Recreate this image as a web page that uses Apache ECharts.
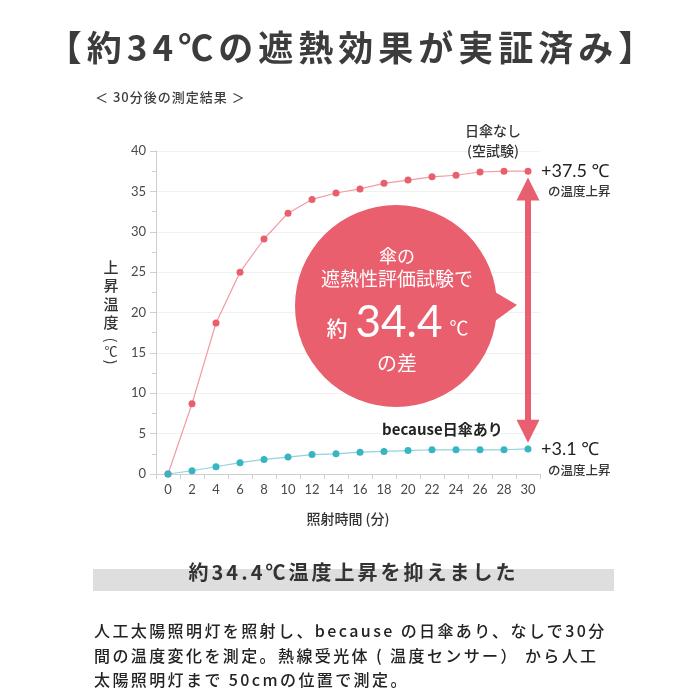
<!DOCTYPE html>
<html lang="ja">
<head>
<meta charset="utf-8">
<title>約34℃の遮熱効果</title>
<script src="https://cdn.jsdelivr.net/npm/echarts@6/dist/echarts.min.js"></script>
<style>
  html, body { margin: 0; padding: 0; background: #fff; }
  #wrap { position: relative; width: 700px; height: 700px; overflow: hidden;
          font-family: "Noto Sans CJK JP", "Noto Sans", sans-serif; }
  #chart { position: absolute; left: 0; top: 0; width: 700px; height: 700px; }
  .title { position: absolute; left: 0; top: 25px; width: 700px; text-align: center;
           font-size: 35px; line-height: 42px; font-weight: 600; color: #3c3c3c;
           letter-spacing: 5px; padding-left: 5px; box-sizing: border-box; }
  .sub { position: absolute; left: 95px; top: 88px; font-size: 13px; line-height: 18px;
         color: #3c3c3c; letter-spacing: 1px; font-weight: 500; }
  .band { position: absolute; left: 93px; top: 569px; width: 521px; height: 22px; background: #dedede; }
  .heading { position: absolute; left: 93px; top: 559px; width: 521px; text-align: center;
             font-size: 20px; line-height: 26px; font-weight: bold; color: #333; letter-spacing: 3px; }
  .para { position: absolute; left: 94px; top: 618px; font-size: 16px; line-height: 24.5px;
          color: #222; letter-spacing: 2.4px; white-space: nowrap; font-weight: 500; }
</style>
</head>
<body>
<div id="wrap">
  <div id="chart"></div>
  <div class="title">【約34℃の遮熱効果が実証済み】</div>
  <div class="sub">＜ 30分後の測定結果 ＞</div>
  <div class="band"></div>
  <div class="heading">約34.4℃温度上昇を抑えました</div>
  <div class="para">人工太陽照明灯を照射し、because の日傘あり、なしで30分<br>間の温度変化を測定。熱線受光体 ( 温度センサー） から人工<br>太陽照明灯まで 50cmの位置で測定。</div>
</div>
<script>
// 照射時間 (分)
const minutes = ['0', '2', '4', '6', '8', '10', '12', '14', '16', '18', '20', '22', '24', '26', '28', '30'];
// 日傘なし (空試験)
const noUmbrella = [0, 8.7, 18.7, 25.0, 29.1, 32.3, 34.0, 34.8, 35.3, 36.0, 36.4, 36.8, 37.0, 37.4, 37.5, 37.5];
// because日傘あり
const withUmbrella = [0, 0.4, 0.9, 1.4, 1.8, 2.1, 2.4, 2.5, 2.7, 2.8, 2.9, 3.0, 3.0, 3.0, 3.0, 3.1];
// 差を示す矢印の両端 (℃)
const arrowEnds = [35.3, 5.3];

const JP = '"Noto Sans CJK JP", sans-serif';
const NUM = 'Lato, "Noto Sans", sans-serif';
const RED = '#e95f6e';
const TEAL = '#36b6c3';
const AXIS = '#cfcfcf';

const chart = echarts.init(document.getElementById('chart'));

const lastMin = minutes[minutes.length - 1];

// 吹き出し・注記のテキスト
function label(text, x, y, font, fill, align, z) {
  return {
    type: 'text',
    z: z || 1,
    style: { text: text, x: x, y: y, font: font, fill: fill, textAlign: align || 'center', textVerticalAlign: 'middle' }
  };
}

const option = {
  animation: false,
  grid: { left: 156, top: 151, width: 384, height: 323 },
  xAxis: {
    type: 'category',
    data: minutes,
    boundaryGap: true,
    name: '照射時間 (分)',
    nameLocation: 'middle',
    nameGap: 38,
    nameTextStyle: { color: '#333', fontSize: 14, fontFamily: JP, fontWeight: 500 },
    axisLine: { lineStyle: { color: AXIS } },
    axisTick: { show: true, length: 5, lineStyle: { color: AXIS } },
    axisLabel: { color: '#4a4a4a', fontSize: 13, fontFamily: NUM, margin: 9 },
    splitLine: { show: false }
  },
  yAxis: {
    type: 'value',
    min: 0,
    max: 40,
    interval: 5,
    axisLine: { show: true, lineStyle: { color: AXIS } },
    axisTick: { show: true, length: 6, lineStyle: { color: AXIS } },
    minorTick: { show: true, splitNumber: 2, length: 4, lineStyle: { color: AXIS } },
    axisLabel: { color: '#4a4a4a', fontSize: 13, fontFamily: NUM, margin: 10 },
    splitLine: { show: true, lineStyle: { color: '#f1f1f1' } }
  },
  series: [
    {
      name: '日傘なし',
      type: 'line',
      data: noUmbrella,
      symbol: 'circle',
      symbolSize: 7,
      itemStyle: { color: RED },
      lineStyle: { color: '#f29ba4', width: 1.2 },
      z: 4,
      markLine: {
        silent: true,
        symbol: ['triangle', 'triangle'],
        symbolSize: 23,
        label: { show: false },
        lineStyle: { color: '#e8606f', width: 6, type: 'solid' },
        data: [[
          { coord: [lastMin, arrowEnds[0]] },
          { coord: [lastMin, arrowEnds[1]] }
        ]]
      }
    },
    {
      name: 'because日傘あり',
      type: 'line',
      data: withUmbrella,
      symbol: 'circle',
      symbolSize: 7,
      itemStyle: { color: TEAL },
      lineStyle: { color: '#8fd4db', width: 1.2 },
      z: 4
    }
  ],
  graphic: [
    // 吹き出し
    { type: 'circle', z: 10, shape: { cx: 396, cy: 306, r: 101 }, style: { fill: RED } },
    { type: 'polygon', z: 10, shape: { points: [[478, 282], [517, 305], [480, 332]] }, style: { fill: RED } },
    label('傘の', 397, 256, '18px ' + JP, '#fff', 'center', 11),
    label('遮熱性評価試験で', 397, 279, '19px ' + JP, '#fff', 'center', 11),
    label('約', 337, 328, '500 21px ' + JP, '#fff', 'center', 11),
    label('34.4', 399, 323, '44px ' + NUM, '#fff', 'center', 11),
    label('℃', 459, 328, '19px ' + JP, '#fff', 'center', 11),
    label('の差', 397, 363, '20px ' + JP, '#fff', 'center', 11),

    // 縦軸名
    { type: 'text', style: { text: '上\n昇\n温\n度', x: 111, y: 258, fill: '#333', font: '500 15px ' + JP, lineHeight: 18.5, textAlign: 'center', textVerticalAlign: 'top' } },
    { type: 'text', x: 111, y: 340, rotation: -Math.PI / 2, style: { text: '(', x: 0, y: 0, fill: '#333', font: '14px ' + JP, textAlign: 'center', textVerticalAlign: 'middle' } },
    label('℃', 111, 351, '13px ' + JP, '#333'),
    { type: 'text', x: 111, y: 362, rotation: -Math.PI / 2, style: { text: ')', x: 0, y: 0, fill: '#333', font: '14px ' + JP, textAlign: 'center', textVerticalAlign: 'middle' } },

    // 注記
    label('日傘なし', 493, 131, '500 14px ' + JP, '#333'),
    label('(空試験)', 493, 151, '500 14px ' + JP, '#333'),
    label('+37.5 ℃', 541, 171, '18px ' + NUM, '#222', 'left'),
    label('の温度上昇', 548, 191, '500 12.5px ' + JP, '#333', 'left'),
    label('because日傘あり', 382, 429, 'bold 15px ' + JP, '#222', 'left'),
    label('+3.1 ℃', 541, 449, '18px ' + NUM, '#222', 'left'),
    label('の温度上昇', 548, 470, '500 12.5px ' + JP, '#333', 'left')
  ]
};

chart.setOption(option);
</script>
</body>
</html>
